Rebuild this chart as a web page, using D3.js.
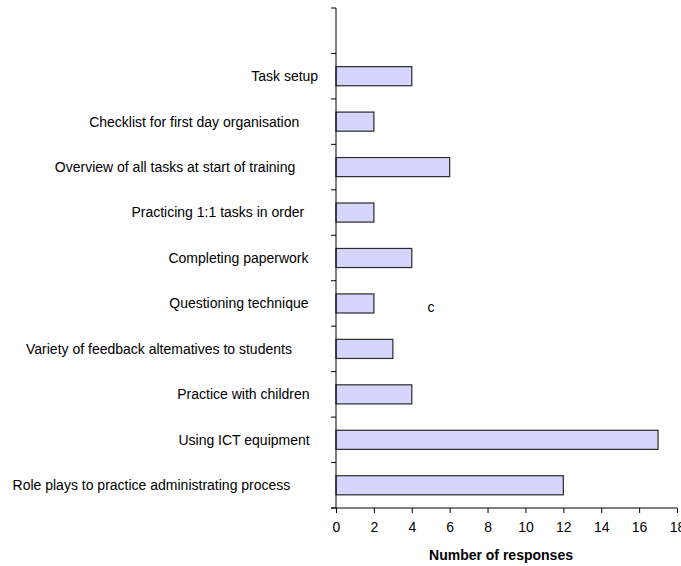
<!DOCTYPE html>
<html>
<head>
<meta charset="utf-8">
<script src="https://cdn.jsdelivr.net/npm/d3@7"></script>
<style>
  html, body { margin: 0; padding: 0; background: #fff; }
  svg { display: block; font-family: "Liberation Sans", Arial, sans-serif; }
</style>
</head>
<body>
<svg id="chart" width="681" height="566"></svg>
<script>
// Survey topics, top to bottom
const categories = [
  "Task setup",
  "Checklist for first day organisation",
  "Overview of all tasks at start of training",
  "Practicing 1:1 tasks in order",
  "Completing paperwork",
  "Questioning technique",
  "Variety of feedback altematives to students",
  "Practice with children",
  "Using ICT equipment",
  "Role plays to practice administrating process"
];
const responses = [4, 2, 6, 2, 4, 2, 3, 4, 17, 12];
const xTicks = [0, 2, 4, 6, 8, 10, 12, 14, 16, 18];
const xTitle = "Number of responses";
const stray = "c";

const svg = d3.select("#chart");
const plotLeft = 336, plotRight = 677, plotTop = 8, plotBottom = 508;
const fontSize = 14;

// an empty slot sits above the first topic on the category axis
const slots = [" "].concat(categories);

const x = d3.scaleLinear().domain([0, 18]).range([plotLeft, plotRight]);
const y = d3.scaleBand().domain(slots).range([plotTop, plotBottom]).paddingInner(0.58).paddingOuter(0.29);
const step = y.step();

// bars
svg.append("g").selectAll("rect")
  .data(categories.map((c, i) => ({ c, v: responses[i] })))
  .join("rect")
  .attr("x", x(0))
  .attr("y", d => y(d.c))
  .attr("width", d => x(d.v) - x(0))
  .attr("height", y.bandwidth())
  .attr("fill", "#d5d5fd")
  .attr("stroke", "#2a2a2a")
  .attr("stroke-width", 1.2);

// category axis: line plus ticks on band boundaries
const yAxis = svg.append("g").attr("stroke", "#000").attr("stroke-width", 1);
yAxis.append("line").attr("x1", plotLeft).attr("x2", plotLeft).attr("y1", plotTop).attr("y2", plotBottom);
d3.range(slots.length + 1).forEach(k => {
  const yy = plotTop + k * step;
  yAxis.append("line").attr("x1", plotLeft - 5).attr("x2", plotLeft).attr("y1", yy).attr("y2", yy);
});

// category labels: each sits centred in a box a little wider than the text,
// with the boxes right-aligned against a common edge
const labelBoxEdge = 327, boxWiden = 0.132;
svg.append("g").selectAll("text")
  .data(categories)
  .join("text")
  .attr("y", d => y(d) + y.bandwidth() / 2)
  .attr("dy", "0.35em")
  .attr("text-anchor", "end")
  .attr("font-size", fontSize)
  .attr("fill", "#000")
  .text(d => d)
  .attr("x", function () { return labelBoxEdge - boxWiden * this.getComputedTextLength(); });

// value axis
const xAxis = d3.axisBottom(x).tickValues(xTicks).tickSize(5).tickSizeOuter(0);
const gx = svg.append("g").attr("transform", `translate(0,${plotBottom})`).call(xAxis);
gx.select(".domain").attr("stroke", "#000").attr("d", `M${plotLeft - 5},0H${plotRight}`);
gx.selectAll(".tick line").attr("stroke", "#000");
gx.selectAll(".tick text")
  .attr("font-size", fontSize)
  .attr("font-family", "Liberation Sans, Arial, sans-serif")
  .attr("fill", "#000")
  .attr("y", 14);

svg.append("text")
  .attr("x", 501)
  .attr("y", 560)
  .attr("text-anchor", "middle")
  .attr("font-size", fontSize)
  .attr("font-weight", "bold")
  .text(xTitle);

svg.append("text")
  .attr("x", 431)
  .attr("y", 307)
  .attr("dy", "0.35em")
  .attr("text-anchor", "middle")
  .attr("font-size", fontSize)
  .text(stray);
</script>
</body>
</html>
